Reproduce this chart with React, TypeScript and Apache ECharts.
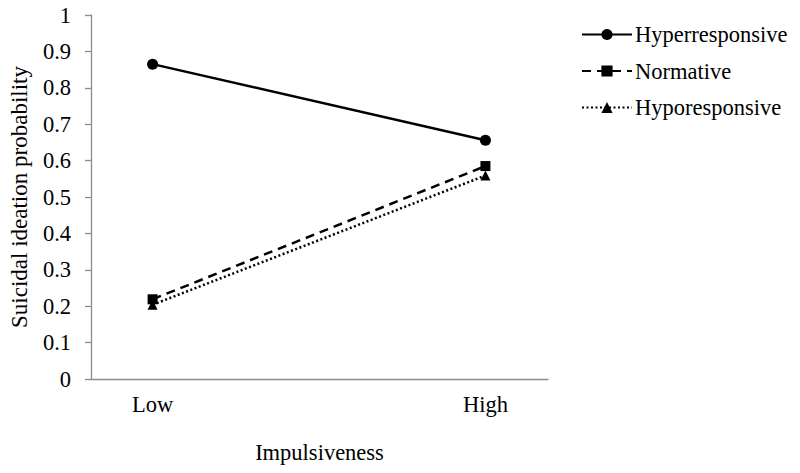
import React, { useEffect, useRef } from "react";
import * as echarts from "echarts";

const categories = ["Low", "High"];
const hyperresponsive = [0.865, 0.656];
const normative = [0.219, 0.585];
const hyporesponsive = [0.204, 0.559];
const yTicks = { min: 0, max: 1, interval: 0.1 };

const FONT = "'Liberation Serif', 'Times New Roman', serif";

export default function App() {
  const ref = useRef<HTMLDivElement>(null);
  useEffect(() => {
    if (!ref.current) return;
    const chart = echarts.init(ref.current, undefined, { renderer: "svg" });
    const toPairs = (vals: number[]) => categories.map((_, i) => [i, vals[i]]);
    const line = (name: string, vals: number[], symbol: string, size: number, type: any) => ({
      name,
      type: "line",
      data: toPairs(vals),
      symbol,
      symbolSize: size,
      itemStyle: { color: "#000" },
      lineStyle: { color: "#000", width: 2.5, type, cap: "butt" },
      z: 3,
    });
    chart.setOption({
      animation: false,
      textStyle: { fontFamily: FONT },
      grid: { left: 88, top: 15, right: 252, bottom: 94, containLabel: false },
      legend: {
        orient: "vertical",
        left: 576,
        top: 18,
        itemWidth: 50,
        itemHeight: 14,
        itemGap: 13.5,
        textStyle: { fontFamily: FONT, fontSize: 22.5, color: "#000", padding: [0, 0, 0, -2] },
        data: ["Hyperresponsive", "Normative", "Hyporesponsive"],
      },
      xAxis: {
        type: "value",
        min: -0.185,
        max: 1.188,
        name: "Impulsiveness",
        nameLocation: "middle",
        nameGap: 62,
        nameTextStyle: { fontFamily: FONT, fontSize: 22.5, color: "#000" },
        axisLine: { show: true, onZero: false, lineStyle: { color: "#8c8c8c", width: 1.3 } },
        axisTick: { show: false },
        splitLine: { show: false },
        axisLabel: {
          customValues: [0, 1],
          formatter: (v: number) => categories[Math.round(v)] ?? "",
          fontFamily: FONT,
          fontSize: 22.5,
          color: "#000",
          margin: 14,
        },
      },
      yAxis: {
        type: "value",
        min: yTicks.min,
        max: yTicks.max,
        interval: yTicks.interval,
        name: "Suicidal ideation probability",
        nameLocation: "middle",
        nameGap: 60,
        nameTextStyle: { fontFamily: FONT, fontSize: 23, color: "#000" },
        axisLine: { show: true, onZero: false, lineStyle: { color: "#8c8c8c", width: 1.3 } },
        axisTick: { show: true, inside: false, length: 6, lineStyle: { color: "#8c8c8c", width: 1.3 } },
        splitLine: { show: false },
        axisLabel: { fontFamily: FONT, fontSize: 22.5, color: "#000", margin: 20 },
      },
      series: [
        line("Hyperresponsive", hyperresponsive, "circle", 11, "solid"),
        line("Normative", normative, "rect", 10, [9, 6]),
        line("Hyporesponsive", hyporesponsive, "triangle", 10, [2, 2.5]),
      ],
    });
    return () => chart.dispose();
  }, []);
  return <div ref={ref} style={{ width: 800, height: 473, margin: -8 }} />;
}
